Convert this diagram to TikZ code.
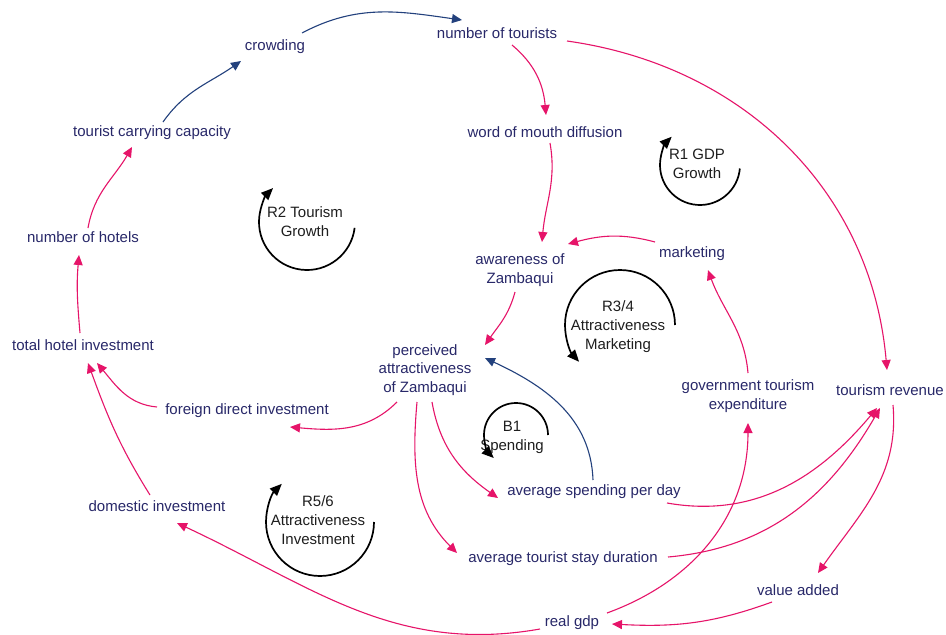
\documentclass[tikz,border=0pt]{standalone}
\usepackage{fontspec}
\setmainfont{Liberation Sans}
\usetikzlibrary{arrows.meta,calc}
\definecolor{pk}{RGB}{230,20,105}
\definecolor{bl}{RGB}{35,65,125}
\definecolor{tx}{RGB}{40,40,105}
\definecolor{lp}{RGB}{30,30,30}
\tikzset{
  var/.style={font=\fontsize{15}{18.5}\selectfont, text=tx, inner sep=0pt, align=center},
  looplbl/.style={font=\fontsize{15}{19}\selectfont, text=lp, inner sep=0pt, align=center},
  posl/.style={draw=pk, line width=1.1pt, -{Triangle[length=10pt,width=9pt]}},
  negl/.style={draw=bl, line width=1.1pt, -{Triangle[length=10pt,width=9pt]}},
  loopc/.style={draw=black, line width=1.7pt, -{Triangle[length=12pt,width=10pt]}}
}
\begin{document}
\begin{tikzpicture}[x=1pt,y=1pt]
\useasboundingbox (0,0) rectangle (946,-635);
\fill[white] (0,0) rectangle (946,-635);
% variables
\node[var] (crowd) at (275,-47) {crowding};
\node[var] (tourists) at (497,-33) {number of tourists};
\node[var] (tcc) at (152,-133) {tourist carrying capacity};
\node[var] (wom) at (545,-132) {word of mouth diffusion};
\node[var] (hotels) at (83,-237) {number of hotels};
\node[var] (aware) at (520,-270) {awareness of\\Zambaqui};
\node[var] (mkt) at (692,-254) {marketing};
\node[var] (thi) at (83,-345) {total hotel investment};
\node[var] (perc) at (425,-370) {perceived\\attractiveness\\of Zambaqui};
\node[var] (gte) at (748,-396) {government tourism\\expenditure};
\node[var] (trev) at (890,-390) {tourism revenue};
\node[var] (fdi) at (247,-411) {foreign direct investment};
\node[var] (asp) at (594,-492) {average spending per day};
\node[var] (dom) at (157,-506) {domestic investment};
\node[var] (atsd) at (563,-559) {average tourist stay duration};
\node[var] (va) at (798,-590) {value added};
\node[var] (gdp) at (572,-623) {real gdp};
% loop labels
\node[looplbl] (r1) at (697,-164) {R1 GDP\\Growth};
\node[looplbl] (r2) at (305,-222) {R2 Tourism\\Growth};
\node[looplbl] (r34) at (618,-327) {R3/4\\Attractiveness\\Marketing};
\node[looplbl] (b1) at (512,-437) {B1\\Spending};
\node[looplbl] (r56) at (318,-520) {R5/6\\Attractiveness\\Investment};
% loop arcs
\draw[loopc] ($(r1)+(3,-1)+(-5:40)$) arc[start angle=-5, end angle=-225, radius=40];
\draw[loopc] ($(r2)+(2,0)+(-7:48)$) arc[start angle=-7, end angle=-225, radius=48];
\draw[loopc] ($(r34)+(2,2)+(0:55)$) arc[start angle=0, end angle=222, radius=55];
\draw[loopc] ($(b1)+(4,2)+(0:32)$) arc[start angle=0, end angle=226, radius=32];
\draw[loopc] ($(r56)+(2,-2)+(0:54)$) arc[start angle=0, end angle=-225, radius=54];
% links
\draw[negl] ($(crowd)+(27,14)$) to[out=28,in=172] ($(tourists)+(-35,13)$);
\draw[negl] ($(tcc)+(11,11)$) to[out=55,in=215] ($(crowd)+(-34,-14)$);
\draw[posl] ($(hotels)+(5,9)$) to[out=80,in=240] ($(tcc)+(-20,-14)$);
\draw[posl] ($(thi)+(-3,12)$) to[out=95,in=-95] ($(hotels)+(-4,-18)$);
\draw[posl] ($(fdi)+(-90,4)$) to[out=175,in=-50] ($(thi)+(14,-18)$);
\draw[posl] ($(dom)+(-7,11)$) to[out=122,in=-70] ($(thi)+(5,-18)$);
\draw[posl] ($(gdp)+(-32,-6)$) to[out=190,in=-25] ($(dom)+(20,-17)$);
\draw[posl] ($(tourists)+(15,-12)$) to[out=-40,in=95] ($(wom)+(1,17)$);
\draw[posl] ($(tourists)+(70,-8)$) to[out=-8,in=95] ($(trev)+(-3,20)$);
\draw[posl] ($(wom)+(5,-11)$) to[out=-80,in=85] ($(aware)+(22,28)$);
\draw[posl] ($(mkt)+(-37,12)$) to[out=165,in=15] ($(aware)+(48,26)$);
\draw[posl] ($(aware)+(-5,-22)$) to[out=-105,in=55] ($(perc)+(60,25)$);
\draw[negl] ($(asp)+(-1,12)$) to[out=92,in=-25] ($(perc)+(60,12)$);
\draw[posl] ($(gte)+(0,23)$) to[out=95,in=-70] ($(mkt)+(16,-16)$);
\draw[posl] ($(perc)+(-28,-32)$) to[out=225,in=-5] ($(fdi)+(43,-16)$);
\draw[posl] ($(perc)+(-8,-32)$) to[out=-95,in=135] ($(atsd)+(-106,6)$);
\draw[posl] ($(perc)+(7,-32)$) to[out=-80,in=145] ($(asp)+(-96,-6)$);
\draw[posl] ($(asp)+(73,-11)$) to[out=-10,in=230] ($(trev)+(-13,-18)$);
\draw[posl] ($(atsd)+(105,2)$) to[out=5,in=240] ($(trev)+(-10,-18)$);
\draw[posl] ($(trev)+(3,-15)$) to[out=-85,in=55] ($(va)+(20,17)$);
\draw[posl] ($(va)+(-26,-12)$) to[out=200,in=-3] ($(gdp)+(40,-1)$);
\draw[posl] ($(gdp)+(35,10)$) to[out=20,in=-90] ($(gte)+(0,-27)$);
\end{tikzpicture}
\end{document}
